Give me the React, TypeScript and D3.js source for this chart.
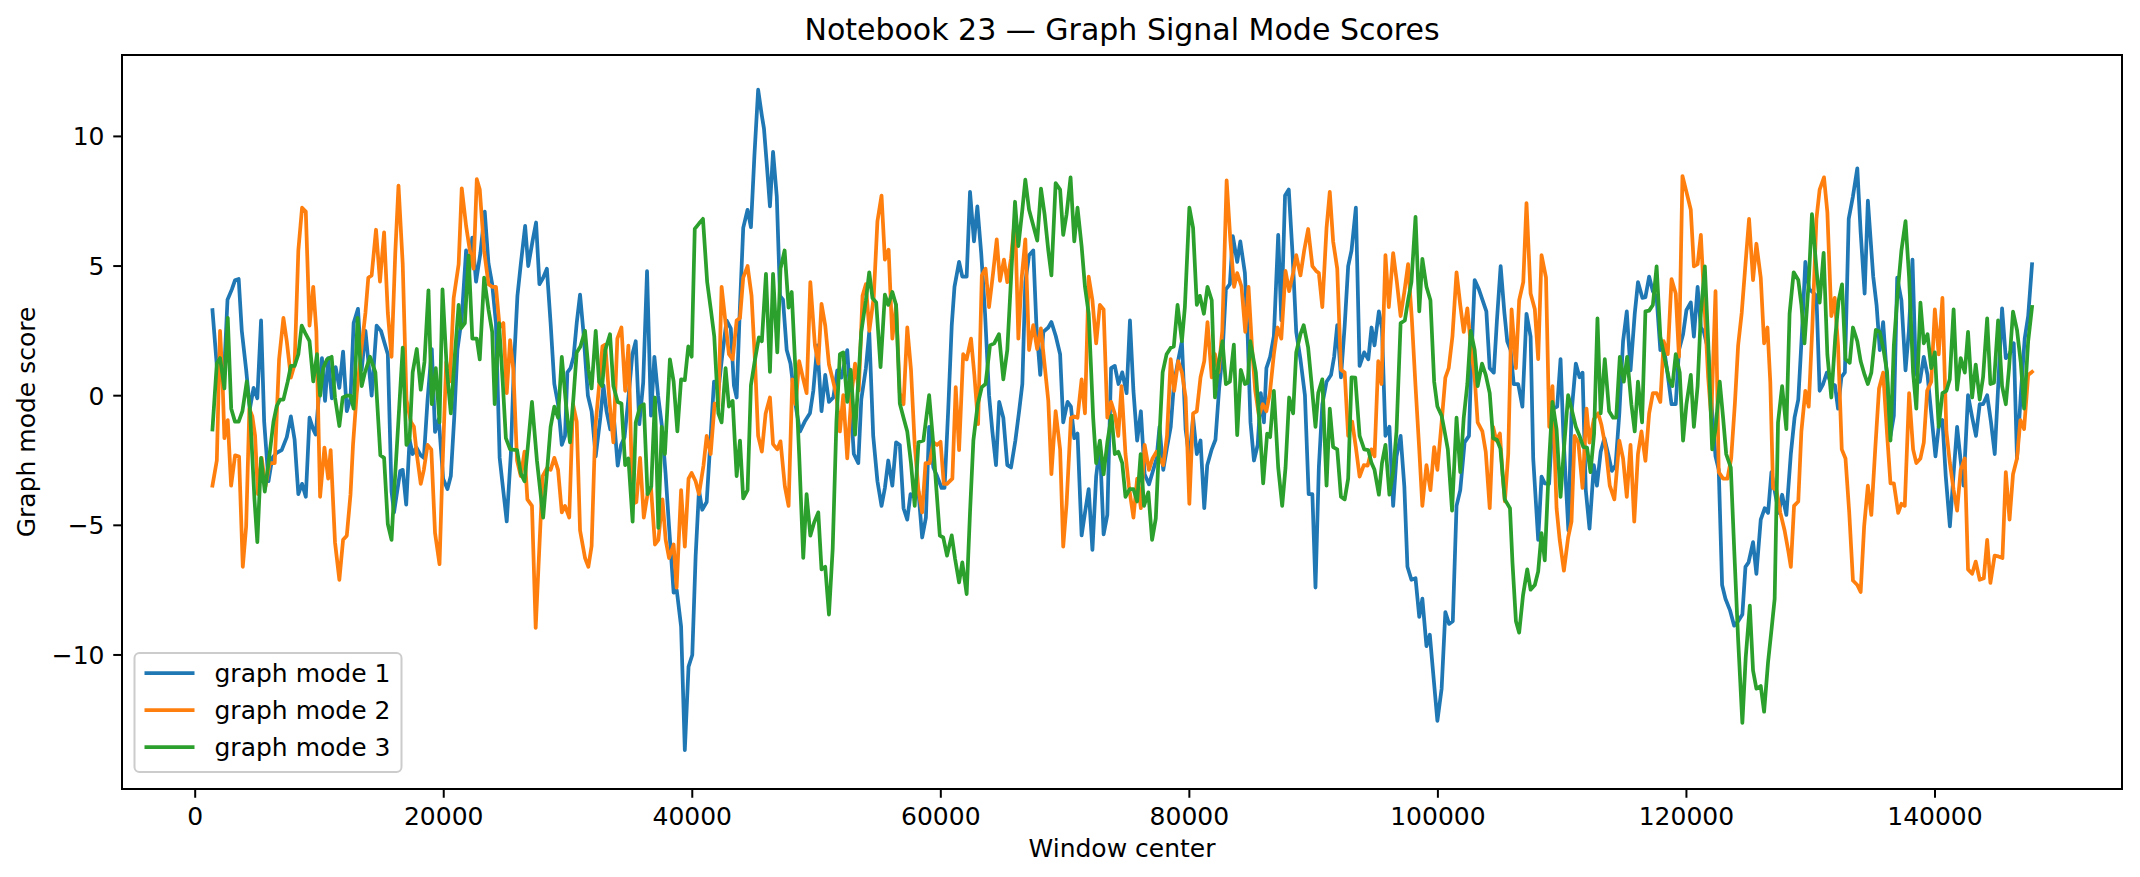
import React from 'react';
import * as d3 from 'd3';

const WIDTH = 2140;
const HEIGHT = 877;
const PLOT = { left: 122, right: 2122, top: 55, bottom: 789 };

// axis limits
const X_DOMAIN: [number, number] = [-5890, 155050];
const Y_DOMAIN: [number, number] = [-15.17, 13.14];

const xTicks = [0, 20000, 40000, 60000, 80000, 100000, 120000, 140000];
const yTicks = [-10, -5, 0, 5, 10];

const seriesNames = ['graph mode 1', 'graph mode 2', 'graph mode 3'];
const seriesColors = ['#1f77b4', '#ff7f0e', '#2ca02c'];

// [window center in thousands, score]
const mode1: [number, number][] = [
  [1.39,3.3],[1.75,1.1],[2.05,1.4],[2.3,0.6],[2.6,3.7],[2.95,4.1],[3.2,4.45],[3.5,4.5],[3.75,2.5],[4.1,1.0],[4.4,-0.5],[4.7,0.3],[5.0,-0.1],[5.3,2.9],[5.55,-1.0],[5.9,-3.3],[6.2,-2.4],[6.56,-2.2],[6.96,-2.1],[7.37,-1.6],[7.7,-0.8],[8.0,-1.7],[8.3,-3.8],[8.6,-3.4],[8.9,-3.9],[9.2,-0.85],[9.5,-1.3],[9.7,-1.5],[10.2,1.45],[10.45,-0.2],[10.7,1.45],[11.0,-0.1],[11.3,1.1],[11.6,0.3],[11.9,1.7],[12.2,-0.6],[12.5,-0.1],[12.75,2.8],[13.1,3.35],[13.4,1.0],[13.7,2.5],[14.2,0.0],[14.6,2.7],[14.95,2.5],[15.5,1.6],[15.8,-3.7],[16.0,-4.5],[16.5,-2.9],[16.7,-2.86],[16.98,-4.2],[17.25,-1.7],[17.5,-2.25],[17.8,-2.0],[18.15,-2.3],[18.4,-2.4],[18.7,-0.15],[19.04,1.8],[19.3,-1.4],[19.6,-0.9],[19.95,-3.2],[20.3,-3.6],[20.57,-3.1],[20.85,-0.8],[21.1,1.76],[21.45,3.0],[21.8,5.6],[22.05,4.8],[22.3,6.1],[22.6,4.4],[22.95,5.5],[23.3,7.1],[23.6,5.1],[23.9,4.3],[24.2,2.8],[24.5,-2.4],[24.8,-3.7],[25.07,-4.85],[25.4,-2.25],[25.65,1.2],[25.93,3.85],[26.2,5.07],[26.55,6.55],[26.8,5.0],[27.16,6.0],[27.43,6.68],[27.7,4.3],[28.0,4.55],[28.3,4.9],[28.6,2.8],[28.9,0.45],[29.2,-0.33],[29.5,-1.9],[29.76,-1.55],[29.95,0.9],[30.2,1.06],[30.45,1.5],[30.7,2.8],
  [30.97,3.9],[31.24,2.46],[31.6,0],[31.9,-0.6],[32.23,-2.34],[32.6,-0.85],[32.85,0.4],[33.1,-0.6],[33.4,-1.3],[33.7,-0.9],[34.0,-2.7],[34.27,-1.9],[34.55,-1.6],[34.85,-0.15],[35.18,1.6],[35.45,2.1],[35.74,-1.1],[36.05,0.5],[36.36,4.8],[36.68,-0.77],[36.95,1.5],[37.25,0.0],[37.54,-1.1],[37.85,-3.0],[38.13,-5.04],[38.5,-7.6],[38.75,-7.5],[39.1,-8.9],[39.4,-13.67],[39.7,-10.45],[40.0,-10.0],[40.27,-6.2],[40.54,-3.64],[40.8,-4.4],[41.16,-4.1],[41.45,-1.8],[41.75,0.54],[42.1,0.2],[42.4,1.5],[42.76,2.9],[43.1,2.6],[43.35,0.4],[43.57,-0.07],[43.8,3.0],[44.1,6.47],[44.45,7.17],[44.72,6.5],[45.0,9.26],[45.3,11.8],[45.6,10.8],[45.77,10.3],[46.0,8.9],[46.25,7.3],[46.5,9.4],[46.8,7.69],[47.06,3.85],[47.3,3.7],[47.6,1.76],[47.9,1.24],[48.3,-0.33],[48.67,-1.38],[49.05,-1.0],[49.47,-0.68],[49.74,0.19],[50.06,1.94],[50.4,-0.6],[50.7,0.8],[51.0,-0.24],[51.35,-0.07],[51.67,0.98],[52.0,0.7],[52.47,1.76],[52.75,-0.3],[53.0,-2.25],[53.36,-2.6],[53.6,-0.15],[53.97,1.06],[54.24,2.46],[54.56,-1.55],[54.9,-3.3],[55.23,-4.25],[55.5,-3.56],[55.77,-2.5],[56.1,-3.47],[56.4,-1.8],[56.7,-1.9],[57.0,-4.34],[57.3,-4.78],[57.56,-3.8],[57.9,-3.9],[58.2,-3.7],[58.5,-5.47],[58.8,-4.7],[59.06,-1.2],[59.4,-2.77],[59.7,-3.1],[60.06,-3.56],[60.3,-3.56],
  [60.6,-0.5],[60.88,2.72],[61.1,4.2],[61.47,5.16],[61.73,4.59],[62.08,4.59],[62.35,7.86],[62.67,5.95],[62.94,7.3],[63.25,5.5],[63.56,3.16],[63.88,0.02],[64.15,-1.38],[64.44,-2.68],[64.7,-0.24],[65.03,-0.85],[65.35,-2.68],[65.65,-2.77],[66.0,-1.73],[66.3,-0.6],[66.56,0.45],[66.8,4.38],[67.1,5.42],[67.44,5.6],[67.7,2.63],[68.0,0.8],[68.25,2.46],[68.65,2.63],[68.9,2.84],[69.25,2.3],[69.6,1.6],[69.85,-1.03],[70.2,-0.24],[70.47,-0.42],[70.74,-1.64],[71.0,-1.46],[71.33,-5.39],[71.6,-4.52],[71.9,-3.6],[72.2,-5.95],[72.5,-3.12],[72.8,-1.9],[73.1,-5.35],[73.4,-4.6],[73.7,1.06],[74.0,1.15],[74.3,0.45],[74.6,0.9],[74.95,0.1],[75.22,2.9],[75.5,0.19],[75.8,-1.73],[76.1,-0.6],[76.4,-3.03],[76.75,-3.42],[77.04,-2.95],[77.36,-2.42],[77.6,-1.2],[77.9,-2.86],[78.2,-2.0],[78.5,-1.2],[78.76,0.45],[79.05,1.24],[79.4,2.1],[79.7,-1.3],[80.0,-2.42],[80.3,-0.85],[80.6,-2.25],[80.9,-1.73],[81.2,-4.34],[81.44,-2.68],[81.8,-2.07],[82.1,-1.7],[82.4,0.3],[82.65,1.5],[82.94,4.1],[83.26,4.3],[83.5,6.15],[83.85,5.16],[84.1,5.95],[84.47,4.73],[84.7,2.2],[84.92,-1.03],[85.2,-2.5],[85.5,-1.9],[85.75,0.1],[86.0,-1.03],[86.2,1.06],[86.5,1.5],[86.8,2.3],[87.15,6.2],[87.4,2.9],[87.7,7.72],[88.0,7.95],[88.3,5.5],[88.6,2.46],[88.94,1.4],[89.3,0.02],[89.6,-3.8],[89.9,-3.8],[90.15,-7.4],
  [90.42,-2.77],[90.7,-0.33],[91.04,0.54],[91.4,0.8],[91.65,1.5],[91.9,2.72],[92.2,0.71],[92.5,2.7],[92.78,5.0],[93.05,5.6],[93.4,7.25],[93.7,1.15],[94.07,1.67],[94.4,1.4],[94.66,2.63],[94.9,1.94],[95.25,3.25],[95.5,2.6],[95.78,-1.55],[96.1,-1.2],[96.4,-4.25],[96.67,-2.34],[97.0,-1.55],[97.3,-3.5],[97.55,-6.6],[97.87,-7.1],[98.2,-7.04],[98.5,-8.53],[98.75,-7.83],[99.08,-9.66],[99.35,-9.22],[99.67,-10.97],[99.96,-12.54],[100.3,-11.3],[100.6,-8.35],[100.9,-8.8],[101.2,-8.7],[101.5,-4.25],[101.8,-3.64],[102.15,-1.8],[102.5,-1.55],[102.7,1.5],[102.96,4.46],[103.3,4.1],[103.6,3.68],[103.9,3.25],[104.17,1.06],[104.5,0.89],[104.75,2.9],[105.05,5.0],[105.35,3.2],[105.58,2.1],[105.85,1.76],[106.1,0.45],[106.46,0.45],[106.8,-0.42],[107.13,3.16],[107.46,2.28],[107.67,-2.42],[108.07,-5.56],[108.34,-3.12],[108.6,-3.38],[108.95,-3.4],[109.28,-0.5],[109.6,-0.42],[109.87,1.41],[110.1,-1.55],[110.5,-5.2],[110.75,-0.68],[111.1,1.24],[111.4,0.71],[111.64,0.89],[111.9,-3.64],[112.2,-5.13],[112.55,-2.68],[112.8,-3.47],[113.1,-2.16],[113.4,-1.64],[113.7,-2.25],[114.0,-2.9],[114.3,-2.68],[114.6,-0.68],[114.9,2.1],[115.2,3.25],[115.5,0.98],[115.84,3.16],[116.1,4.38],[116.46,3.77],[116.7,3.8],[117.0,4.59],[117.3,4.03],[117.6,3.8],[117.9,1.76],[118.2,1.8],[118.47,0.89],[118.8,-0.33],[119.14,-0.33],[119.4,1.76],[119.73,2.37],
  [120.0,3.3],[120.35,3.6],[120.6,2.28],[120.9,4.2],[121.16,2.63],[121.4,2.46],[121.75,1.76],[122.05,-0.5],[122.34,-2.34],[122.6,-2.86],[122.87,-7.3],[123.14,-7.83],[123.5,-8.27],[123.84,-8.87],[124.16,-8.7],[124.5,-8.44],[124.75,-6.6],[125.0,-6.43],[125.36,-5.65],[125.63,-6.87],[125.98,-4.78],[126.3,-4.34],[126.57,-4.52],[126.84,-2.95],[127.16,-3.82],[127.43,-4.52],[127.7,-3.82],[128.04,-4.6],[128.4,-2.25],[128.7,-0.85],[129.0,-0.15],[129.3,2.46],[129.57,5.16],[129.87,4.11],[130.15,4.0],[130.46,3.85],[130.72,0.19],[131.0,0.45],[131.3,0.89],[131.66,0.45],[131.95,0.4],[132.2,-0.5],[132.47,0.71],[132.75,0.9],[133.06,6.82],[133.4,7.69],[133.75,8.77],[134.02,6.3],[134.34,3.94],[134.6,7.52],[135.03,4.6],[135.3,3.5],[135.56,1.76],[135.83,2.84],[136.15,0.6],[136.42,-1.55],[136.69,-0.77],[136.96,4.55],[137.3,3.68],[137.63,0.98],[137.9,2.5],[138.19,5.25],[138.46,0.89],[138.78,0.54],[139.1,1.5],[139.4,0.8],[139.7,-0.68],[140.04,-2.34],[140.3,-1.2],[140.6,-0.94],[140.87,-3.12],[141.2,-5.04],[141.5,-3.0],[141.78,-1.2],[142.05,-2.42],[142.3,-3.47],[142.66,0.02],[143.0,-0.85],[143.3,-1.55],[143.6,-0.33],[143.87,-0.33],[144.2,0.02],[144.5,-1.0],[144.81,-2.25],[145.1,0.5],[145.4,3.37],[145.7,1.45],[146.0,1.6],[146.34,2.02],[146.6,-2.42],[146.9,0.0],[147.22,2.2],[147.5,3.07],[147.81,5.07],
];

const mode2: [number, number][] = [
  [1.39,-3.47],[1.74,-2.5],[2.0,2.5],[2.2,0.6],[2.35,-1.64],[2.62,-0.94],[2.89,-3.47],[3.21,-2.3],[3.53,-2.35],[3.83,-6.6],[4.1,-5.04],[4.36,-0.5],[4.6,-0.8],[4.82,-1.55],[5.05,-3.8],[5.35,-2.4],[5.65,-3.5],[6.0,-2.6],[6.4,-2.6],[6.75,1.4],[7.1,3.0],[7.37,2.1],[7.7,0.7],[8.0,1.2],[8.3,5.6],[8.6,7.25],[8.9,7.1],[9.2,2.7],[9.5,4.2],[9.75,2.5],[10.05,-3.9],[10.4,-2.0],[10.7,-3.2],[10.9,-2.1],[11.25,-5.65],[11.6,-7.1],[11.9,-5.56],[12.2,-5.4],[12.5,-3.8],[12.7,-1.9],[13.0,0.1],[13.4,1.9],[13.7,3.2],[13.93,4.55],[14.2,4.64],[14.55,6.4],[14.87,4.4],[15.2,6.3],[15.5,3.2],[15.8,1.5],[16.1,5.5],[16.36,8.1],[16.7,5.07],[17.0,-0.15],[17.35,-1.0],[17.6,-1.2],[17.83,-2.25],[18.15,-3.4],[18.4,-2.86],[18.7,-1.9],[19.0,-2.07],[19.3,-5.3],[19.66,-6.5],[19.9,-2.77],[20.2,1.3],[20.5,0.55],[20.8,3.77],[21.2,5.07],[21.45,8.0],[21.8,6.55],[22.1,5.6],[22.4,4.9],[22.66,8.35],[22.9,7.95],[23.25,5.6],[23.6,4.3],[23.9,4.2],[24.2,4.2],[24.5,2.63],[24.8,2.8],[25.07,0.1],[25.34,2.14],[25.6,1.0],[25.9,-2.5],[26.2,-3.1],[26.5,-2.16],[26.73,-4.0],[27.1,-4.25],[27.4,-8.96],[27.7,-5.8],[27.96,-3.1],[28.3,-2.8],[28.6,-2.86],[28.9,-2.4],[29.2,-2.86],[29.5,-4.5],[29.76,-4.25],[30.1,-4.7],[30.4,-0.33],[30.7,-1.0],
  [30.97,-5.2],[31.37,-6.26],[31.64,-6.6],[31.9,-5.8],[32.2,-1.2],[32.5,0.37],[32.77,1.9],[33.0,1.97],[33.35,-0.3],[33.65,-1.8],[33.97,2.2],[34.3,2.63],[34.6,0.19],[34.86,1.93],[35.2,-4.17],[35.5,-4.1],[35.8,-2.4],[36.1,-4.7],[36.4,-3.8],[36.68,-3.56],[37.0,-5.74],[37.27,-5.56],[37.6,-4.0],[37.86,-5.56],[38.13,-6.26],[38.5,-5.74],[38.74,-7.4],[39.1,-3.64],[39.4,-5.82],[39.7,-3.2],[39.95,-2.98],[40.27,-3.3],[40.54,-3.8],[40.9,-2.7],[41.16,-1.55],[41.48,-2.25],[41.8,-0.3],[42.1,-0.4],[42.36,4.2],[42.68,2.8],[42.95,1.6],[43.25,1.4],[43.57,2.9],[43.84,3.0],[44.1,4.55],[44.45,5.0],[44.77,3.85],[45.05,1.3],[45.3,-1.55],[45.6,-2.16],[45.9,-0.7],[46.25,-0.07],[46.5,-1.87],[46.84,-2.07],[47.1,-1.76],[47.45,-3.5],[47.75,-4.25],[48.05,0.63],[48.32,-0.33],[48.6,1.33],[48.9,0.7],[49.2,0.1],[49.5,4.38],[49.87,1.94],[50.14,1.24],[50.4,3.54],[50.7,2.7],[51.0,1.2],[51.3,0.63],[51.6,0.0],[51.88,-1.38],[52.15,0.02],[52.47,-2.42],[52.8,0.0],[53.1,1.24],[53.4,0.2],[53.7,3.85],[53.97,4.3],[54.25,2.5],[54.6,3.8],[54.9,6.73],[55.23,7.72],[55.5,5.25],[55.8,5.63],[56.1,2.2],[56.4,3.5],[56.7,0.1],[57.0,-0.33],[57.3,2.63],[57.6,1.0],[57.9,-1.9],[58.2,-3.64],[58.5,-4.5],[58.77,-2.6],[59.1,-2.6],[59.4,-1.8],[59.7,-1.9],[59.98,-1.78],[60.24,-3.4],[60.5,-3.4],
  [60.93,-3.2],[61.2,0.33],[61.47,-2.1],[61.8,1.6],[62.08,1.4],[62.43,2.2],[62.7,0.8],[63.0,-1.1],[63.3,4.64],[63.6,4.9],[63.88,3.42],[64.2,4.7],[64.5,6.03],[64.76,4.43],[65.08,5.25],[65.35,4.38],[65.65,5.3],[65.97,6.9],[66.24,2.2],[66.5,4.5],[66.8,6.03],[67.1,1.76],[67.44,2.72],[67.75,1.8],[68.05,2.6],[68.38,1.06],[68.65,-0.2],[68.9,-3.03],[69.24,-0.6],[69.6,-2.07],[69.85,-5.82],[70.12,-4.17],[70.47,-0.85],[70.74,-0.8],[71.0,-0.85],[71.33,0.63],[71.6,-0.68],[71.9,4.59],[72.2,3.68],[72.5,2.02],[72.8,3.5],[73.1,3.33],[73.4,-0.85],[73.7,-0.24],[74.0,-0.7],[74.28,-1.55],[74.54,0.37],[74.86,-2.25],[75.13,-3.47],[75.5,-4.7],[75.8,-3.2],[76.1,-4.34],[76.4,-1.9],[76.75,-2.86],[77.04,-2.42],[77.36,-2.16],[77.6,-2.4],[77.9,-2.68],[78.2,-1.55],[78.5,1.41],[78.78,0.19],[79.1,1.33],[79.4,0.9],[79.7,-0.07],[80.0,-4.17],[80.3,-0.68],[80.6,-0.6],[80.9,0.71],[81.2,1.33],[81.46,2.84],[81.8,0.71],[82.06,1.6],[82.35,0.9],[82.65,2.5],[83.0,8.3],[83.3,6.0],[83.6,4.2],[83.85,4.73],[84.2,4.2],[84.5,2.46],[84.76,4.2],[85.05,1.8],[85.3,0.2],[85.6,-0.77],[85.9,-0.33],[86.2,-0.6],[86.48,0.1],[86.8,1.6],[87.1,2.63],[87.4,2.2],[87.74,4.81],[88.03,4.03],[88.35,4.73],[88.6,5.42],[88.94,4.64],[89.24,5.6],[89.56,6.43],[89.9,5.0],[90.2,4.81],
  [90.42,4.73],[90.7,3.42],[91.04,6.47],[91.3,7.86],[91.57,5.95],[91.9,4.9],[92.2,1.0],[92.5,0.89],[92.78,-1.55],[93.1,-1.0],[93.4,-2.0],[93.7,-3.12],[94.04,-2.68],[94.35,-2.7],[94.66,-2.07],[94.9,-2.34],[95.2,1.33],[95.46,0.45],[95.78,5.42],[96.05,3.42],[96.4,5.5],[96.7,4.38],[97.0,3.07],[97.3,4.0],[97.6,5.07],[97.9,2.98],[98.2,0.37],[98.5,-2.07],[98.75,-4.25],[99.08,-2.68],[99.4,-3.64],[99.7,-1.98],[99.96,-2.86],[100.3,-1.03],[100.6,0.7],[100.87,1.06],[101.17,2.28],[101.5,4.76],[101.8,3.5],[102.08,2.46],[102.37,3.37],[102.7,1.7],[102.96,0.71],[103.2,-1.03],[103.58,-1.38],[103.85,-2.16],[104.17,-4.34],[104.44,-1.2],[104.7,-1.73],[104.99,-1.46],[105.2,-3.0],[105.39,-4.08],[105.66,-2.25],[105.93,3.33],[106.28,1.06],[106.54,3.68],[106.87,4.38],[107.13,7.43],[107.46,3.94],[107.8,3.33],[108.07,1.41],[108.34,5.42],[108.7,4.55],[108.96,-1.2],[109.22,0.37],[109.55,-4.34],[109.8,-5.56],[110.14,-6.75],[110.48,-5.47],[110.75,-4.86],[111.0,-1.55],[111.3,-1.8],[111.64,-3.56],[111.96,-0.5],[112.2,-1.81],[112.55,-0.9],[112.9,-0.68],[113.16,-1.12],[113.5,-2.0],[113.83,-3.47],[114.2,-4.0],[114.6,-1.73],[114.9,-2.42],[115.2,-3.9],[115.5,-1.9],[115.8,-4.86],[116.1,-2.25],[116.38,-1.38],[116.7,-2.51],[117.0,-0.68],[117.3,0.1],[117.6,0.1],[117.9,-0.24],[118.17,2.1],[118.5,1.6],[118.8,4.5],[119.14,3.94],[119.4,1.5],[119.68,8.47],
  [120.0,7.86],[120.35,7.17],[120.6,4.99],[120.9,5.07],[121.16,6.2],[121.45,3.5],[121.75,0.7],[122.0,-0.85],[122.34,4.03],[122.6,-2.95],[122.95,-3.2],[123.3,-3.2],[123.6,-2.42],[123.9,-0.3],[124.16,1.94],[124.45,3.2],[124.75,5.07],[125.04,6.82],[125.36,4.46],[125.63,5.86],[125.98,4.55],[126.25,2.02],[126.52,2.63],[126.75,0.5],[126.97,-3.56],[127.24,-3.64],[127.55,-4.5],[127.9,-5.2],[128.2,-6.0],[128.4,-6.6],[128.66,-4.25],[129.0,-4.08],[129.25,-1.38],[129.57,0.19],[129.84,-0.42],[130.13,2.63],[130.46,6.82],[130.72,7.95],[131.07,8.42],[131.34,7.08],[131.66,3.07],[131.93,3.77],[132.2,1.94],[132.5,-2.07],[132.8,-2.42],[133.1,-4.5],[133.4,-7.13],[133.75,-7.3],[134.02,-7.57],[134.3,-5.04],[134.6,-3.47],[134.88,-4.6],[135.2,-2.0],[135.5,0.28],[135.83,0.89],[136.15,-1.5],[136.42,-3.38],[136.69,-3.38],[137.04,-4.52],[137.3,-4.17],[137.57,-4.25],[137.92,0.1],[138.24,-2.07],[138.5,-2.6],[138.83,-2.42],[139.1,-1.81],[139.37,0.19],[139.7,0.54],[139.99,3.33],[140.3,1.59],[140.6,3.77],[140.92,-1.38],[141.2,-2.6],[141.5,-3.64],[141.78,-4.43],[142.07,-2.86],[142.4,-2.42],[142.66,-6.7],[142.99,-6.87],[143.28,-6.4],[143.6,-7.1],[143.93,-7.04],[144.2,-5.56],[144.46,-7.22],[144.8,-6.17],[145.1,-6.2],[145.43,-6.26],[145.7,-2.95],[146.0,-4.78],[146.28,-3.03],[146.6,-2.42],[146.87,-0.94],[147.17,-1.29],[147.5,0.8],[147.81,0.92],
];

const mode3: [number, number][] = [
  [1.39,-1.3],[1.74,1.24],[2.0,1.45],[2.35,0.28],[2.62,3.0],[2.9,-0.5],[3.2,-1.0],[3.5,-1.0],[3.8,-0.6],[4.15,0.55],[4.4,-0.5],[4.77,-4.0],[5.0,-5.65],[5.3,-2.4],[5.6,-3.7],[5.9,-2.6],[6.3,-1.0],[6.56,-0.4],[6.83,-0.15],[7.1,-0.15],[7.45,0.55],[7.7,1.15],[8.0,1.15],[8.3,1.6],[8.57,2.7],[8.9,2.37],[9.2,2.1],[9.5,0.55],[9.8,1.6],[10.05,0],[10.3,1.06],[10.6,1.4],[10.98,1.5],[11.25,-0.07],[11.6,-1.17],[11.87,-0.07],[12.2,0],[12.5,0],[12.75,-0.5],[13.07,3.0],[13.4,0.37],[13.66,0.9],[14.07,1.5],[14.5,0.9],[14.9,-2.3],[15.2,-2.4],[15.5,-4.95],[15.8,-5.56],[16.0,-3.8],[16.35,-1.0],[16.7,1.85],[17.0,-1.9],[17.25,-1.7],[17.5,0.9],[17.83,1.8],[18.15,0.23],[18.45,1.3],[18.77,4.06],[19.04,-0.33],[19.36,1.06],[19.66,-1.03],[19.9,4.1],[20.25,1.0],[20.57,-0.68],[20.9,1.6],[21.2,3.5],[21.4,2.6],[21.7,2.8],[22.0,5.4],[22.3,2.2],[22.66,2.2],[22.9,1.4],[23.25,4.55],[23.6,3.33],[23.9,2.46],[24.1,-0.33],[24.45,2.8],[24.75,0.5],[25.0,-1.64],[25.34,-2.07],[25.9,-2.1],[26.2,-3.0],[26.5,-3.3],[26.8,-1.8],[27.1,-0.24],[27.5,-2.5],[28.0,-4.7],[28.3,-3.0],[28.6,-1.2],[28.9,-0.42],[29.2,-0.85],[29.5,1.5],[29.84,-0.33],[30.16,-1.8],[30.45,0.0],[30.7,1.67],
  [31.0,1.9],[31.37,2.5],[31.65,1.0],[31.9,0.28],[32.23,2.5],[32.5,0.54],[32.75,0.37],[33.0,1.76],[33.38,2.37],[33.65,0.37],[34.0,-0.24],[34.3,-0.3],[34.6,-2.68],[34.86,-2.42],[35.2,-4.86],[35.45,-1.03],[35.8,-0.42],[36.1,-0.33],[36.4,-3.8],[36.7,-3.5],[37.0,-0.07],[37.27,-5.1],[37.54,-1.2],[37.8,-2.25],[38.2,1.4],[38.5,0.54],[38.8,-1.38],[39.1,0.63],[39.4,0.6],[39.68,1.9],[39.95,1.5],[40.2,6.43],[40.54,6.64],[40.86,6.82],[41.2,4.38],[41.5,3.3],[41.77,2.28],[42.1,-0.68],[42.36,-1.03],[42.68,1.06],[42.95,-0.42],[43.25,-0.2],[43.57,-3.1],[43.84,-1.73],[44.1,-3.96],[44.45,-3.64],[44.72,0.4],[45.05,1.4],[45.36,2.25],[45.6,2.1],[45.93,4.7],[46.25,0.92],[46.5,4.7],[46.84,1.67],[47.1,4.9],[47.43,5.6],[47.75,3.4],[48.0,4.0],[48.3,1.0],[48.6,-2.25],[48.93,-6.26],[49.2,-3.8],[49.5,-5.4],[49.8,-4.9],[50.14,-4.5],[50.4,-6.7],[50.7,-6.6],[51.0,-8.44],[51.3,-5.9],[51.6,-1.0],[51.88,1.6],[52.15,1.67],[52.47,-0.24],[52.75,1.0],[53.1,-1.5],[53.35,0.5],[53.6,2.46],[53.97,3.68],[54.24,4.76],[54.5,3.77],[54.8,3.6],[55.15,1.1],[55.5,3.9],[55.77,3.5],[56.1,4.0],[56.4,3.5],[56.7,-0.3],[57.0,-0.85],[57.3,-1.38],[57.6,-2.6],[57.9,-4.25],[58.2,-1.8],[58.6,-1.73],[59.06,0.02],[59.35,-1.6],[59.65,-3.64],[59.92,-5.4],[60.2,-5.47],[60.5,-6.17],
  [60.88,-5.39],[61.15,-6.3],[61.47,-7.2],[61.73,-6.43],[62.08,-7.65],[62.35,-4.5],[62.62,-1.73],[62.97,-0.33],[63.3,0.33],[63.6,0.45],[63.96,1.94],[64.3,2.02],[64.68,2.37],[65.03,0.63],[65.35,1.76],[65.65,4.5],[65.97,7.48],[66.24,5.77],[66.56,7.17],[66.8,8.33],[67.1,7.17],[67.44,6.56],[67.76,5.98],[68.06,7.99],[68.35,7.0],[68.65,5.6],[68.9,4.64],[69.24,8.2],[69.6,7.95],[69.85,6.2],[70.12,7.0],[70.44,8.42],[70.74,5.95],[71.0,7.25],[71.33,5.77],[71.6,4.2],[71.9,3.16],[72.26,-0.85],[72.5,-2.6],[72.8,-1.73],[73.1,-3.03],[73.4,-1.8],[73.74,-0.77],[74.0,-2.25],[74.28,-2.16],[74.6,-2.6],[74.86,-3.9],[75.2,-3.6],[75.5,-3.6],[75.8,-4.08],[76.08,-2.25],[76.35,-4.25],[76.7,-3.73],[77.0,-5.56],[77.3,-4.73],[77.6,-1.5],[77.85,0.9],[78.17,1.6],[78.5,1.85],[78.75,1.9],[79.05,3.5],[79.4,2.1],[79.64,3.42],[80.0,7.25],[80.3,6.47],[80.6,3.5],[80.85,3.85],[81.17,3.16],[81.46,4.2],[81.8,3.68],[82.06,-0.07],[82.35,1.24],[82.67,2.1],[82.94,0.45],[83.26,0.54],[83.58,1.97],[83.85,-1.52],[84.14,1.0],[84.47,0.45],[84.7,0.5],[84.9,2.1],[85.35,0.9],[85.67,-1.2],[85.94,-3.38],[86.26,-1.46],[86.5,-1.6],[86.8,0.19],[87.15,-2.77],[87.47,-4.25],[87.74,-2.77],[88.03,-0.07],[88.35,-0.68],[88.6,1.67],[88.94,2.37],[89.2,2.72],[89.56,1.85],[89.82,0.54],[90.15,-1.2],
  [90.37,0.1],[90.7,0.63],[91.04,-3.47],[91.3,-0.5],[91.57,-1.98],[91.9,-2.07],[92.2,-3.9],[92.5,-4.0],[92.78,-3.2],[93.05,0.71],[93.35,0.7],[93.7,-1.55],[94.07,-2.07],[94.4,-2.1],[94.66,-2.6],[94.9,-2.86],[95.25,-3.82],[95.5,-2.6],[95.78,-1.9],[96.1,-3.82],[96.4,-2.95],[96.67,-1.38],[97.0,2.8],[97.34,2.9],[97.6,3.68],[97.87,4.38],[98.2,6.9],[98.5,3.25],[98.75,5.28],[99.08,4.2],[99.4,3.68],[99.7,0.54],[99.96,-0.42],[100.3,-0.77],[100.55,-1.4],[100.8,-2.07],[101.14,-4.43],[101.5,-0.85],[101.8,-2.95],[102.08,-0.85],[102.37,0.45],[102.64,2.5],[102.96,1.76],[103.2,0.37],[103.55,1.24],[103.85,0.8],[104.17,0.1],[104.44,-1.64],[104.75,-1.7],[105.03,-2.04],[105.38,-4.0],[105.8,-4.34],[106.0,-6.43],[106.28,-8.7],[106.54,-9.14],[106.85,-7.7],[107.19,-6.7],[107.46,-7.48],[107.8,-7.3],[108.07,-6.78],[108.34,-5.3],[108.6,-6.35],[108.95,-2.5],[109.22,-0.24],[109.55,-1.3],[109.87,-3.9],[110.14,-2.07],[110.48,0.02],[110.8,-0.6],[111.1,-1.2],[111.4,-1.55],[111.7,-1.98],[112.0,-2.0],[112.28,-2.95],[112.57,-1.46],[112.84,2.98],[113.1,-0.68],[113.43,1.41],[113.78,-0.6],[114.1,-0.85],[114.35,-0.85],[114.64,1.5],[114.96,0.54],[115.23,1.5],[115.57,-0.33],[115.84,-1.38],[116.1,0.54],[116.43,-1.03],[116.7,3.25],[117.0,3.28],[117.3,3.5],[117.6,4.99],[117.9,2.28],[118.26,1.41],[118.6,0.63],[118.87,0.37],[119.14,1.6],[119.46,0.89],[119.73,-1.73],[120.0,-0.33],
  [120.35,0.8],[120.6,-1.2],[120.9,0.37],[121.16,3.16],[121.48,4.99],[121.75,2.1],[122.07,-2.07],[122.34,-1.29],[122.68,0.54],[122.95,-0.85],[123.2,-2.25],[123.57,-2.77],[123.85,-6.0],[124.16,-9.4],[124.5,-12.62],[124.77,-10.1],[125.1,-8.1],[125.36,-10.6],[125.63,-11.3],[125.98,-11.2],[126.25,-12.19],[126.57,-10.27],[126.84,-9.05],[127.1,-7.83],[127.37,-1.03],[127.7,0.37],[128.04,-1.29],[128.3,3.16],[128.63,4.76],[129.0,4.46],[129.25,3.5],[129.5,2.02],[129.84,4.38],[130.1,7.0],[130.46,4.9],[130.72,3.59],[131.04,5.51],[131.34,1.59],[131.66,-0.07],[131.98,2.28],[132.25,3.68],[132.52,4.29],[132.8,1.41],[133.14,1.27],[133.4,2.63],[133.75,2.1],[134.02,1.33],[134.34,0.8],[134.6,0.45],[134.88,0.89],[135.24,2.54],[135.56,2.46],[135.85,1.8],[136.15,0.89],[136.42,-1.73],[136.69,1.94],[137.0,4.0],[137.3,5.6],[137.63,6.73],[137.92,4.55],[138.24,0.89],[138.5,-0.5],[138.83,3.59],[139.1,2.02],[139.4,2.37],[139.7,1.06],[139.99,1.67],[140.3,-1.2],[140.6,0.1],[140.92,0.19],[141.19,0.63],[141.5,3.33],[141.78,0.23],[142.07,1.45],[142.4,0.89],[142.66,2.46],[142.99,-0.07],[143.28,1.2],[143.6,-0.15],[143.87,0.71],[144.2,2.98],[144.46,0.45],[144.75,0.5],[145.08,2.9],[145.4,0.37],[145.7,-0.33],[145.96,1.06],[146.28,3.24],[146.6,2.54],[146.9,1.3],[147.17,-0.5],[147.5,2.1],[147.81,3.42],
];

const seriesData = [mode1, mode2, mode3];

const FONT = '"DejaVu Sans", Arial, sans-serif';
const fmtY = (v: number) => (v < 0 ? '\u2212' + Math.abs(v) : String(v));

export default function App() {
  const x = d3.scaleLinear().domain(X_DOMAIN).range([PLOT.left, PLOT.right]);
  const y = d3.scaleLinear().domain(Y_DOMAIN).range([PLOT.bottom, PLOT.top]);
  const line = d3
    .line<[number, number]>()
    .x((d) => x(d[0] * 1000))
    .y((d) => y(d[1]));

  const tickLen = 8.75;
  const midX = (PLOT.left + PLOT.right) / 2;
  const midY = (PLOT.top + PLOT.bottom) / 2;

  // legend box (lower left)
  const lg = { x: 134.5, y: 653, w: 267, h: 119 };
  const rowY = [673, 710, 747];

  return (
    <div style={{ position: 'absolute', left: 0, top: 0 }}>
      <svg width={WIDTH} height={HEIGHT} style={{ display: 'block', background: '#fff' }} fontFamily={FONT}>
        <defs>
          <clipPath id="plot-clip">
            <rect x={PLOT.left} y={PLOT.top} width={PLOT.right - PLOT.left} height={PLOT.bottom - PLOT.top} />
          </clipPath>
        </defs>

        <text x={midX} y={40} textAnchor="middle" fontSize={30} fill="#000">
          Notebook 23 — Graph Signal Mode Scores
        </text>

        <g clipPath="url(#plot-clip)">
          {seriesData.map((s, i) => (
            <path
              key={seriesNames[i]}
              d={line(s) || ''}
              fill="none"
              stroke={seriesColors[i]}
              strokeWidth={3.75}
              strokeLinejoin="round"
              strokeLinecap="square"
            />
          ))}
        </g>

        {/* x axis */}
        {xTicks.map((t) => (
          <g key={'x' + t}>
            <line x1={x(t)} x2={x(t)} y1={PLOT.bottom} y2={PLOT.bottom + tickLen} stroke="#000" strokeWidth={2} />
            <text x={x(t)} y={PLOT.bottom + tickLen + 8.75 + 18.5} textAnchor="middle" fontSize={25} fill="#000">
              {t}
            </text>
          </g>
        ))}
        <text x={midX} y={857} textAnchor="middle" fontSize={25} fill="#000">
          Window center
        </text>

        {/* y axis */}
        {yTicks.map((t) => (
          <g key={'y' + t}>
            <line x1={PLOT.left - tickLen} x2={PLOT.left} y1={y(t)} y2={y(t)} stroke="#000" strokeWidth={2} />
            <text x={PLOT.left - tickLen - 8.75} y={y(t) + 9} textAnchor="end" fontSize={25} fill="#000">
              {fmtY(t)}
            </text>
          </g>
        ))}
        <text
          transform={`translate(35, ${midY}) rotate(-90)`}
          textAnchor="middle"
          fontSize={25}
          fill="#000"
        >
          Graph mode score
        </text>

        <rect
          x={PLOT.left}
          y={PLOT.top}
          width={PLOT.right - PLOT.left}
          height={PLOT.bottom - PLOT.top}
          fill="none"
          stroke="#000"
          strokeWidth={2}
        />

        {/* legend */}
        <rect x={lg.x} y={lg.y} width={lg.w} height={lg.h} rx={5} fill="#fff" fillOpacity={0.8} stroke="#cccccc" strokeWidth={2} />
        {seriesNames.map((name, i) => (
          <g key={'lg' + name}>
            <line x1={lg.x + 10} x2={lg.x + 60} y1={rowY[i]} y2={rowY[i]} stroke={seriesColors[i]} strokeWidth={3.75} />
            <text x={lg.x + 80} y={rowY[i] + 9} fontSize={25} fill="#000">
              {name}
            </text>
          </g>
        ))}
      </svg>
    </div>
  );
}
